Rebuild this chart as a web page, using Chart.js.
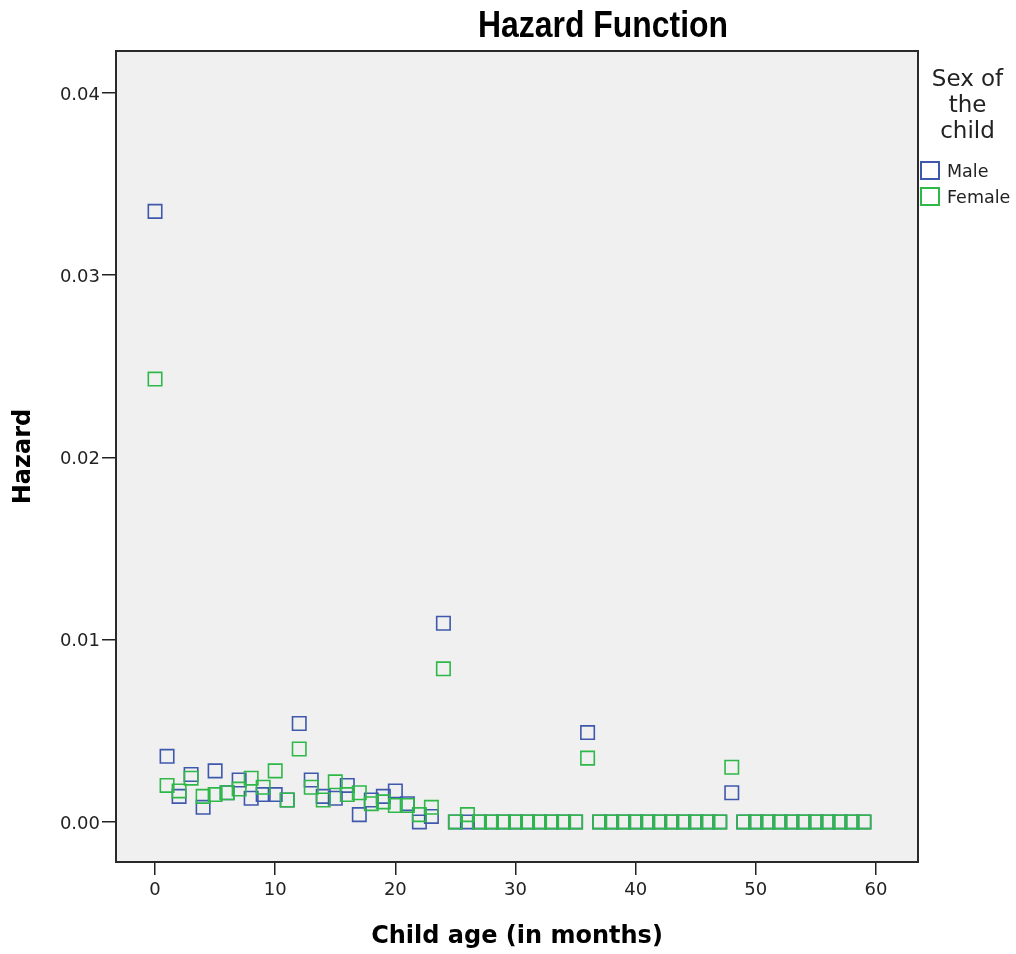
<!DOCTYPE html>
<html>
<head>
<meta charset="utf-8">
<script src="https://cdn.jsdelivr.net/npm/chart.js@4"></script>
<style>
  html, body { margin: 0; padding: 0; background: #fff; }
  #wrap { position: relative; width: 1016px; height: 954px; }
  #chart { position: absolute; left: 0; top: 0; }
  #title {
    position: absolute; left: 603px; top: 7px;
    font: bold 36px "Liberation Sans", Arial, sans-serif; line-height: 36px;
    white-space: nowrap; color: #000;
    transform: translateX(-50%);
  }
  #legendTitle {
    position: absolute; left: 917px; top: 65px; width: 101px;
    font: 23px "DejaVu Sans", sans-serif; line-height: 26px;
    text-align: center; color: #222;
  }
  .item { position: absolute; left: 920px; height: 20px; }
  .item .box { position: absolute; left: 0; top: 0; width: 16px; height: 15px; border: 2px solid; }
  .item .lbl {
    position: absolute; left: 27px; top: 0; white-space: nowrap;
    font: 17.5px "DejaVu Sans", sans-serif; line-height: 20px; color: #222;
  }
</style>
</head>
<body>
<div id="wrap">
  <canvas id="chart" width="1016" height="954"></canvas>
  <div id="title">Hazard Function</div>
  <div id="legendTitle">Sex of<br>the<br>child</div>
  <div id="legendItems"></div>
</div>
<script>
// data
var months = [0, 1, 2, 3, 4, 5, 6, 7, 8, 9, 10, 11, 12, 13, 14, 15, 16, 17, 18, 19,
  20, 21, 22, 23, 24, 25, 26, 27, 28, 29, 30, 31, 32, 33, 34, 35, 36, 37, 38, 39,
  40, 41, 42, 43, 44, 45, 46, 47, 48, 49, 50, 51, 52, 53, 54, 55, 56, 57, 58, 59];
var maleHazard = [0.0335, 0.0036, 0.0014, 0.0026, 0.0008, 0.0028, 0.0016, 0.0023, 0.0013, 0.0015,
  0.0015, 0.0012, 0.0054, 0.0023, 0.0014, 0.0013, 0.0020, 0.0004, 0.0012, 0.0014,
  0.0017, 0.0010, 0.0000, 0.0003, 0.0109, 0, 0, 0, 0, 0, 0, 0, 0, 0, 0, 0,
  0.0049, 0, 0, 0, 0, 0, 0, 0, 0, 0, 0, 0,
  0.0016, 0, 0, 0, 0, 0, 0, 0, 0, 0, 0, 0];
var femaleHazard = [0.0243, 0.0020, 0.0017, 0.0024, 0.0014, 0.0015, 0.0016, 0.0018, 0.0024, 0.0019,
  0.0028, 0.0012, 0.0040, 0.0019, 0.0012, 0.0022, 0.0015, 0.0016, 0.0010, 0.0011,
  0.0009, 0.0009, 0.0004, 0.0008, 0.0084, 0, 0.0004, 0, 0, 0, 0, 0, 0, 0, 0, 0,
  0.0035, 0, 0, 0, 0, 0, 0, 0, 0, 0, 0, 0,
  0.0030, 0, 0, 0, 0, 0, 0, 0, 0, 0, 0, 0];
var seriesNames = ['Male', 'Female'];
var xTickValues = [0, 10, 20, 30, 40, 50, 60];
var yTickValues = [0, 0.01, 0.02, 0.03, 0.04];

var maleColor = '#3E58AC';
var femaleColor = '#2EB848';

function toPoints(xs, ys) {
    return xs.map(function (x, i) { return { x: x, y: ys[i] }; });
}

// grey plot background and black frame
var plotFrame = {
    id: 'plotFrame',
    beforeDraw: function (chart) {
        var a = chart.chartArea, ctx = chart.ctx;
        ctx.save();
        ctx.fillStyle = '#F0F0F0';
        ctx.fillRect(a.left, a.top, a.right - a.left, a.bottom - a.top);
        ctx.restore();
    },
    afterDraw: function (chart) {
        var a = chart.chartArea, ctx = chart.ctx;
        ctx.save();
        ctx.strokeStyle = '#2a2a2a';
        ctx.lineWidth = 2;
        ctx.strokeRect(a.left, a.top, a.right - a.left, a.bottom - a.top);
        ctx.restore();
    }
};

var tickFont = { family: 'DejaVu Sans', size: 18 };
var axisTitleFont = { family: 'DejaVu Sans', size: 24, weight: 'bold' };

var ctx = document.getElementById('chart').getContext('2d');
var hazardChart = new Chart(ctx, {
    type: 'scatter',
    data: {
        datasets: [{
            label: seriesNames[0],
            data: toPoints(months, maleHazard),
            borderColor: maleColor,
            backgroundColor: 'rgba(0,0,0,0)',
            pointStyle: 'rect',
            pointRadius: 9.5,
            pointBorderWidth: 1.6,
            order: 2
        }, {
            label: seriesNames[1],
            data: toPoints(months, femaleHazard),
            borderColor: femaleColor,
            backgroundColor: 'rgba(0,0,0,0)',
            pointStyle: 'rect',
            pointRadius: 9.5,
            pointBorderWidth: 1.6,
            order: 1
        }]
    },
    options: {
        responsive: false,
        animation: false,
        layout: { padding: { top: 51, right: 98, left: 0, bottom: 0 } },
        plugins: {
            legend: { display: false },
            title: { display: false },
            tooltip: { enabled: false }
        },
        scales: {
            x: {
                type: 'linear',
                min: -3.25,
                max: 63.5,
                border: { display: false },
                grid: { drawOnChartArea: false, drawTicks: true, tickLength: 13, color: '#222', lineWidth: 1.5 },
                ticks: {
                    font: tickFont, color: '#222', padding: 5, maxRotation: 0, autoSkip: false,
                    callback: function (v) { return v.toFixed(0); }
                },
                afterBuildTicks: function (s) { s.ticks = xTickValues.map(function (v) { return { value: v }; }); },
                afterFit: function (s) { s.height = 92; },
                title: {
                    display: true, text: 'Child age (in months)', font: axisTitleFont, color: '#000',
                    padding: { top: 0, bottom: 3 }
                }
            },
            y: {
                type: 'linear',
                min: -0.0022,
                max: 0.0423,
                border: { display: false },
                grid: { drawOnChartArea: false, drawTicks: true, tickLength: 14, color: '#222', lineWidth: 1.5 },
                ticks: {
                    font: tickFont, color: '#222', padding: 2, labelOffset: 2, autoSkip: false,
                    callback: function (v) { return v.toFixed(2); }
                },
                afterBuildTicks: function (s) { s.ticks = yTickValues.map(function (v) { return { value: v }; }); },
                afterFit: function (s) { s.width = 116; },
                title: {
                    display: true, text: 'Hazard', font: axisTitleFont, color: '#000',
                    padding: { top: 9, bottom: 0 }
                }
            }
        }
    },
    plugins: [plotFrame]
});

// legend on the right, SPSS style
var legendColors = [maleColor, femaleColor];
var legendBox = document.getElementById('legendItems');
seriesNames.forEach(function (name, i) {
    var row = document.createElement('div');
    row.className = 'item';
    row.style.top = (161 + i * 26) + 'px';
    row.innerHTML = '<div class="box" style="border-color:' + legendColors[i] + '"></div>' +
        '<div class="lbl">' + name + '</div>';
    legendBox.appendChild(row);
});

// squeeze the title to the narrow look of the original
var title = document.getElementById('title');
var k = 250 / title.offsetWidth;
title.style.transform = 'translateX(-50%) scaleX(' + k.toFixed(3) + ')';
</script>
</body>
</html>
